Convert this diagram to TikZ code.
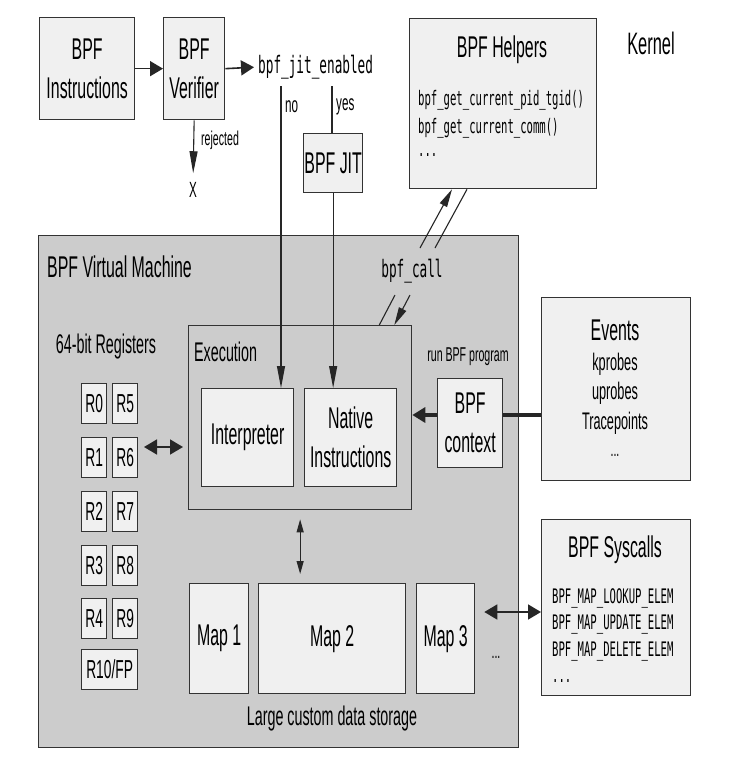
\documentclass[tikz,border=0pt]{standalone}
\usepackage{fontspec}
\setmainfont{Liberation Sans}[FakeStretch=0.53]
\newfontfamily\monof{DejaVu Sans Mono}[FakeStretch=0.53]
\usetikzlibrary{arrows.meta,calc}
\begin{document}
\begin{tikzpicture}[x=1pt,y=-1pt,
  box/.style={draw=black!80, line width=1.3pt, fill=black!6, inner sep=0pt, align=center,
    anchor=north west, font=\fontsize{30}{39}\selectfont},
  txt/.style={inner sep=0pt},
  f30/.style={font=\fontsize{30}{36}\selectfont},
  f27/.style={font=\fontsize{27}{32}\selectfont},
  f24/.style={font=\fontsize{24}{28}\selectfont},
  f22/.style={font=\fontsize{22}{26}\selectfont},
  f20/.style={font=\fontsize{20}{24}\selectfont},
  m24/.style={font=\monof\fontsize{24}{28}\selectfont},
  m20/.style={font=\monof\fontsize{20}{24}\selectfont},
  conn/.style={draw=black!85, line width=1.1pt},
  harr/.style={conn, line width=1.6pt, -{Triangle[length=13pt,width=15pt]}},
  hdbl/.style={conn, line width=1.6pt, {Triangle[length=13pt,width=15pt]}-{Triangle[length=13pt,width=15pt]}},
  varr/.style={conn, -{Triangle[length=22pt,width=8pt]}},
  vdbl/.style={conn, {Triangle[length=13pt,width=7pt]}-{Triangle[length=13pt,width=7pt]}},
  darr/.style={conn, -{Triangle[length=18pt,width=8pt]}},
]
\useasboundingbox (0,0) rectangle (745,761);
\fill[white] (0,0) rectangle (745,761);

% Virtual machine background
\node[box, fill=black!20, minimum width=480pt, minimum height=512pt] (vm) at (38,235) {};
\node[txt, f30, anchor=west] (vmtitle) at (47,267) {BPF Virtual Machine};

% top flow
\node[box, minimum width=95pt, minimum height=102pt] (ins) at (39,17) {BPF\\Instructions};
\node[box, minimum width=61pt, minimum height=102pt] (ver) at (163,17) {BPF\\Verifier};
\node[txt, m24, anchor=west] (jiten) at (258,67) {bpf\_jit\_enabled};
\draw[harr] (ins.east) -- (ver.west);
\draw[harr, shorten >=4pt] (ver.east) -- (jiten.west);

\node[txt, f22] (X) at (193,190) {X};
\draw[varr, shorten >=9pt] (ver.south) -- (X.north);
\node[txt, f20, anchor=west] (rej) at (201,140) {rejected};

\coordinate (nos) at (281,86);
\coordinate (yess) at (332,86);
\node[txt, f22, anchor=west] (nolbl) at (285,107) {no};
\node[txt, f22, anchor=west] (yeslbl) at (336,107) {yes};
\node[box, minimum width=59pt, minimum height=59pt] (jit) at (303,133) {BPF JIT};
\draw[conn] (yess) -- (yess |- jit.north);

% helpers
\node[box, minimum width=187pt, minimum height=170pt] (helpers) at (409,18) {};
\node[txt, f30] (helptitle) at (502,50) {BPF Helpers};
\node[txt, m20, anchor=west] (h1) at (418,100) {bpf\_get\_current\_pid\_tgid()};
\node[txt, m20, anchor=west] (h2) at (418,128) {bpf\_get\_current\_comm()};
\node[txt, m20, anchor=west] (h3) at (418,155) {...};
\node[txt, font=\fontsize{31}{36}\selectfont] (kernel) at (651,43) {Kernel};

% execution
\node[box, fill=black!20, minimum width=223pt, minimum height=184pt] (exec) at (188,325) {};
\node[txt, f27, anchor=west] (execlbl) at (194,352) {Execution};
\node[box, minimum width=92pt, minimum height=98pt] (interp) at (201,388) {Interpreter};
\node[box, minimum width=92pt, minimum height=98pt] (nat) at (304,388) {Native\\Instructions};
\draw[varr] (nos) -- (nos |- interp.north);
\draw[varr] (jit.south) -- (jit.south |- nat.north);

% bpf_call
\node[txt, m24] (bcall) at (412,271) {bpf\_call};
\coordinate (a1) at ($(exec.north east)+(-33,0)$);
\coordinate (a2) at (395,295);
\coordinate (b1) at (410,295);
\coordinate (b2) at ($(exec.north east)+(-18,0)$);
\draw[conn] (a1) -- (a2);
\draw[darr] (b1) -- (b2);
\coordinate (c1) at (420,248);
\coordinate (c2) at ($(helpers.south west)+(43,0)$);
\coordinate (d1) at (435,248);
\coordinate (d2) at ($(helpers.south west)+(58,0)$);
\draw[darr] (c1) -- (c2);
\draw[conn] (d1) -- (d2);

% registers
\node[txt, f27] (reglbl) at (106,347) {64-bit Registers};
\tikzset{reg/.style={box, minimum width=25pt, minimum height=40pt, font=\fontsize{26}{30}\selectfont}}
\node[reg] (r0) at (81,383) {R0};
\node[reg] (r5) at (112,383) {R5};
\node[reg] (r1) at (81,437) {R1};
\node[reg] (r6) at (112,437) {R6};
\node[reg] (r2) at (81,491) {R2};
\node[reg] (r7) at (112,491) {R7};
\node[reg] (r3) at (81,545) {R3};
\node[reg] (r8) at (112,545) {R8};
\node[reg] (r4) at (81,598) {R4};
\node[reg] (r9) at (112,598) {R9};
\node[reg, minimum width=56pt] (r10) at (81,649) {R10/FP};
\coordinate (ra) at (137,447);
\draw[hdbl, shorten <=7pt, shorten >=5pt] (ra) -- (ra -| exec.west);

% maps
\node[box, minimum width=59pt, minimum height=110pt] (map1) at (189,583) {Map 1};
\node[box, minimum width=147pt, minimum height=110pt] (map2) at (258,583) {Map 2};
\node[box, minimum width=58pt, minimum height=110pt] (map3) at (416,583) {Map 3};
\node[txt, f20] (mdots) at (496,657) {...};
\node[txt, f27] (storage) at (332,719) {Large custom data storage};
\draw[vdbl, shorten <=9pt, shorten >=9pt] (exec.south) -- (exec.south |- map2.north);

% events and context
\node[box, minimum width=149pt, minimum height=183pt] (events) at (541,297) {};
\node[txt, f30] (evtitle) at (615,330) {Events};
\node[txt, f24] (ev1) at (615,364) {kprobes};
\node[txt, f24] (ev2) at (615,393) {uprobes};
\node[txt, f24] (ev3) at (615,423) {Tracepoints};
\node[txt, f20] (ev4) at (615,455) {...};
\node[txt, f20] (runlbl) at (468,357) {run BPF program};
\node[box, minimum width=65pt, minimum height=89pt] (ctx) at (437,378) {BPF\\context};
\coordinate (ty) at (0,415);
\draw[conn, line width=4.5pt] (ctx.east |- ty) -- (events.west |- ty);
\draw[harr, line width=4pt] (ctx.west |- ty) -- (exec.east |- ty);

% syscalls
\node[box, minimum width=149pt, minimum height=176pt] (sys) at (541,519) {};
\node[txt, f30] (systitle) at (615,550) {BPF Syscalls};
\node[txt, m20, anchor=west] (s1) at (552,598) {BPF\_MAP\_LOOKUP\_ELEM};
\node[txt, m20, anchor=west] (s2) at (552,625) {BPF\_MAP\_UPDATE\_ELEM};
\node[txt, m20, anchor=west] (s3) at (552,652) {BPF\_MAP\_DELETE\_ELEM};
\node[txt, m20, anchor=west] (s4) at (552,681) {...};
\coordinate (sy) at (0,612);
\draw[hdbl, shorten <=9pt] (map3.east |- sy) -- (sys.west |- sy);
\end{tikzpicture}
\end{document}
